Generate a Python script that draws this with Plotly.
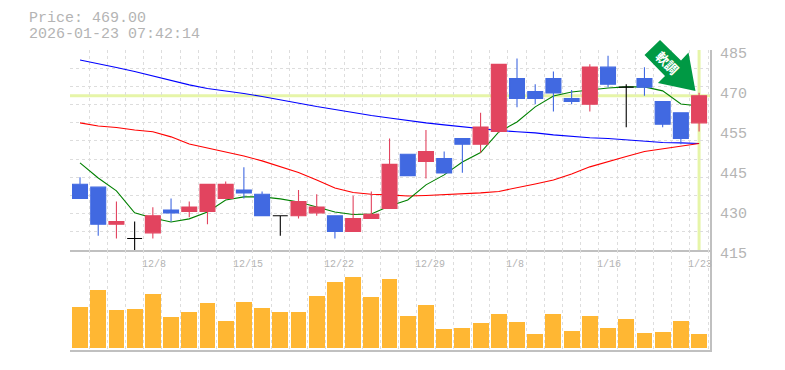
import plotly.graph_objects as go

# ---- data ----
opens  = [438,437,424,419,421,429,428.5,428.5,433,436,434.5,427,427,428,427,421.5,426,429.5,448.5,446,447,454,452,456.5,475,470.5,475,468,466,479,472,475,467,463,459.5]
highs  = [440.5,437,432,425,430,433,432,438,439,444,435.5,427,436,434.5,427,434,435.5,454,448.5,457,449.5,454,463,480,482,473,477.5,471,480,483,473,479,467,463,470]
lows   = [433,420,419,414.5,419,425,426.5,424,433,433,427,420,426,427,419,421.5,426,429.5,441,440,442,442,449,456,465,466,463.5,466,463.5,472,458,469,458,452,456.5]
closes = [433,424,425,419,427,428,430,438,438,435,427,427,432,430,421.5,426,427.5,445,441,449.5,442,452,458,480,468,468,470,467,479,473,472,472,459,454,469]
ma_short = [445.5,440.2,435.7,428,426.2,424.8,425.9,428.3,432.5,433.6,433.6,432.9,431.8,430.1,428.3,427.4,427.6,430.4,432.5,437.8,441.3,445.8,449.1,456.3,459.8,465.1,468.9,470.3,471,471.7,472.1,472.1,470.7,466.1,465.4]
ma_mid   = [459.5,458.4,457.9,457,456.4,454.6,452.1,450.7,449.5,447.9,446.2,444.1,442.1,439.5,436.7,435.1,434.5,434.3,433.9,434.1,434.4,434.6,435,435.5,436.7,438.1,439.5,441.6,444.1,446,447.7,449.5,450.5,451.4,452.3]
ma_long  = [481.5,480.3,478.9,477.5,475.9,474.2,472.8,471.5,470.7,469.8,468.7,467.5,466.3,465.2,464.2,463.1,462.1,461.2,460.3,459.5,458.8,458.1,457.4,456.8,456.4,456,455.3,454.7,454.3,454,453.6,453.1,452.6,452.5,452.3]
volumes  = [41,58,38,39,54,31,36,45,27,46,40,36,36,52,66,71,51,69,32,43,19,20,25,34,26,14,34,17,32,20,29,15,16,27,14]
date_index  = [4,9,14,19,24,29,34]
date_labels = ["12/8","12/15","12/22","12/29","1/8","1/16","1/23"]
price_tick_values = [415,429,443,457,471,485]
price_tick_labels = ["415","430","445","455","470","485"]
last_price = 469
title_lines = ["Price: 469.00","2026-01-23 07:42:14"]
badge_text = "軟調"

# ---- style ----
RED="#E2445F"; BLUE="#4169E1"; GRID="#DDDDDD"; AXIS="#C0C0C0"; TXT="#B4B4B4"; BAND="#E6F5A8"
MONO="Liberation Mono, DejaVu Sans Mono, monospace"
W,H=785,370; L,R,T,B=70,710,50,350
fx=lambda p:(p-L)/(R-L)
fy=lambda p:(B-p)/(B-T)
n=len(opens); xs=list(range(n))
X_RANGE=[-0.55,34.6]; Y_RANGE=[415,485]; V_RANGE=[-2,98]

fig=go.Figure()
for vals,col in ((ma_long,"#0000FF"),(ma_mid,"#FF0000"),(ma_short,"#008000")):
    fig.add_trace(go.Scatter(x=xs,y=vals,mode="lines",line=dict(color=col,width=1.1),xaxis="x",yaxis="y",showlegend=False))

plain=[i for i in xs if opens[i]!=closes[i]]
doji=[i for i in xs if opens[i]==closes[i]]
def cs(idx,up,dn):
    return go.Candlestick(x=idx,open=[opens[i] for i in idx],high=[highs[i] for i in idx],low=[lows[i] for i in idx],close=[closes[i] for i in idx],
        increasing=dict(line=dict(color=up,width=1.1),fillcolor=up),decreasing=dict(line=dict(color=dn,width=1.1),fillcolor=dn),
        whiskerwidth=0,xaxis="x3",yaxis="y3",showlegend=False)
fig.add_trace(cs(plain,RED,BLUE))
fig.add_trace(cs(doji,"#000000","#000000"))
fig.add_trace(go.Bar(x=xs,y=volumes,marker=dict(color="#FFB733",line=dict(width=0)),width=0.87,xaxis="x2",yaxis="y2",showlegend=False))

grid_x=[i-0.5 for i in range(n+1)]
grid_y=[415+k*70/11 for k in range(12)]
gridstyle=dict(showgrid=True,gridcolor=GRID,gridwidth=1,griddash="3px,3px",zeroline=False,ticks="")
fig.update_layout(
    width=W,height=H,margin=dict(l=L,r=W-R,t=T,b=H-B,pad=0),paper_bgcolor="white",plot_bgcolor="white",
    showlegend=False,bargap=0,boxgap=0.18,boxgroupgap=0,boxmode="overlay",
    xaxis=dict(domain=[0,1],range=X_RANGE,tickvals=grid_x,showticklabels=False,anchor="y",showline=True,linecolor=AXIS,linewidth=1.5,**gridstyle),
    xaxis2=dict(domain=[0,1],range=X_RANGE,tickvals=grid_x,showticklabels=False,anchor="y2",showline=True,linecolor=AXIS,linewidth=1.5,**gridstyle),
    xaxis3=dict(overlaying="x",range=X_RANGE,anchor="y3",showticklabels=False,showgrid=False,zeroline=False,rangeslider=dict(visible=False),ticks=""),
    yaxis=dict(domain=[1/3,1],range=Y_RANGE,side="right",anchor="x",showticklabels=False,showgrid=False,zeroline=False,ticks="",showline=True,linecolor=AXIS,linewidth=1.5),
    yaxis2=dict(domain=[0,1/3],range=V_RANGE,side="right",anchor="x2",showticklabels=False,showgrid=False,zeroline=False,ticks="",showline=True,linecolor=AXIS,linewidth=1.5),
    yaxis3=dict(overlaying="y",range=Y_RANGE,anchor="x3",tickvals=grid_y,showticklabels=False,**gridstyle),
)
fig.add_shape(type="line",xref="x domain",yref="y",x0=0,x1=1,y0=last_price,y1=last_price,line=dict(color=BAND,width=3),layer="below")
fig.add_shape(type="line",xref="x",yref="y domain",x0=xs[-1],x1=xs[-1],y0=0,y1=1,line=dict(color=BAND,width=3),layer="below")

arrow=[(660,40),(644.5,55),(665,76),(658,83),(695.5,91),(688.5,52.5),(681,60.5)]
path="M "+" L ".join(f"{fx(a):.4f} {fy(b):.4f}" for a,b in arrow)+" Z"
fig.add_shape(type="path",xref="paper",yref="paper",path=path,fillcolor="#009944",line=dict(width=0),layer="above")

for v,lab in zip(price_tick_values,price_tick_labels):
    fig.add_annotation(x=fx(720),xref="paper",y=v,yref="y",text=lab,showarrow=False,xanchor="left",yanchor="middle",xshift=-2,yshift=-4,font=dict(family=MONO,size=15,color=TXT))
for i,lab in zip(date_index,date_labels):
    fig.add_annotation(x=i,xref="x",y=fy(264),yref="paper",text=lab,showarrow=False,xanchor="left",yanchor="middle",xshift=-13,font=dict(family=MONO,size=10,color=TXT))
for line,py in zip(title_lines,(18.5,35)):
    fig.add_annotation(x=fx(29),xref="paper",y=fy(py),yref="paper",text=line,showarrow=False,xanchor="left",yanchor="middle",xshift=-2,font=dict(family=MONO,size=15,color=TXT))
fig.add_annotation(x=fx(667.5),xref="paper",y=fy(62),yref="paper",text=badge_text,showarrow=False,textangle=45,xanchor="center",yanchor="middle",font=dict(family="Noto Sans CJK JP",size=13,color="white",weight="bold"))

fig.write_html("out.html",config=dict(displayModeBar=False),post_script="document.body.style.margin='0';document.body.style.overflow='hidden';")
